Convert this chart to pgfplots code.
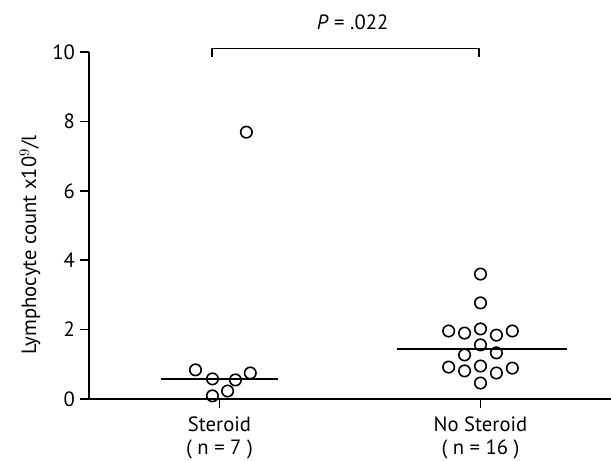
\documentclass[border=0pt]{standalone}
\usepackage{fontspec}
\setmainfont{PT Sans}
\usepackage{pgfplots}
\pgfplotsset{compat=1.18}

\begin{document}
\begin{tikzpicture}[font=\fontsize{15.5}{17.5}\selectfont]
\begin{axis}[
    scale only axis,
    width=391.5pt, height=260.25pt,
    xmin=0.5, xmax=2.5, ymin=0, ymax=10,
    axis lines=left,
    axis line style={line width=1.4pt, -},
    xtick={1,2},
    xticklabels={Steroid\\( n = 7 ), No Steroid\\( n = 16 )},
    xticklabel style={align=center, yshift=-2.5pt},
    ytick={0,2,4,6,8,10},
    tick style={line width=1.2pt, black},
    tick align=outside,
    major tick length=7pt,
    /pgf/number format/assume math mode=true,
    ylabel={Lymphocyte count x10$^{9}$/l},
    ylabel style={at={(axis description cs:-0.113,0.444)}, anchor=center},
    clip=false,
]
% Steroid
\addplot[only marks, mark=o, mark size=4.3pt, line width=1.2pt] coordinates {
    (0.908,0.84) (0.973,0.58) (1.061,0.55) (1.118,0.75)
    (1.031,0.23) (0.973,0.09) (1.103,7.69)
};
% No Steroid
\addplot[only marks, mark=o, mark size=4.3pt, line width=1.2pt] coordinates {
    (2.0,3.60) (2.0,2.77)
    (1.878,1.96) (1.939,1.90) (2.0,2.02) (2.061,1.84) (2.122,1.96)
    (2.0,1.56) (1.939,1.27) (2.061,1.33)
    (1.878,0.92) (1.939,0.81) (2.0,0.95) (2.061,0.75) (2.122,0.89)
    (2.0,0.46)
};
% medians
\addplot[line width=1.5pt] coordinates {(0.775,0.58) (1.225,0.58)};
\addplot[line width=1.5pt] coordinates {(1.68,1.44) (2.33,1.44)};
% significance bracket
\draw[line width=1.2pt] (axis cs:0.971,9.86) -- (axis cs:0.971,10.1) -- (axis cs:1.994,10.1) -- (axis cs:1.994,9.86);
\node[anchor=center] at (axis cs:1.51,10.86) {\textit{P} = .022};
\coordinate (bl) at (rel axis cs:-0.1705,-0.1758);
\coordinate (tr) at (rel axis cs:1,1.1499);
\end{axis}
\pgfresetboundingbox
\path[use as bounding box] (bl) rectangle (tr);
\end{tikzpicture}
\end{document}
